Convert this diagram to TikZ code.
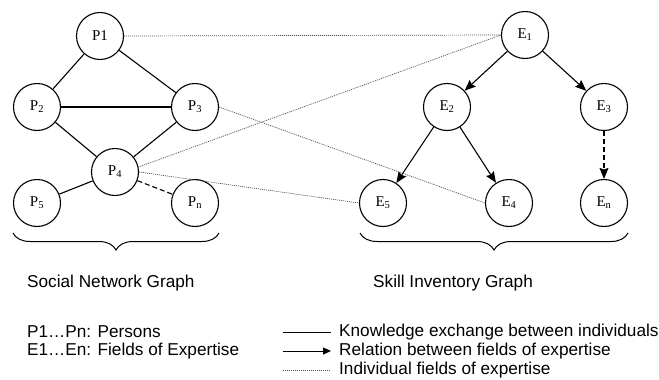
\documentclass[tikz,border=0pt]{standalone}
\usepackage{fontspec}
\setmainfont{Liberation Serif}
\newfontfamily\labelfont{Liberation Sans}
\usetikzlibrary{arrows.meta,decorations.pathreplacing}
\begin{document}
\begin{tikzpicture}[x=1pt,y=-1pt,
  vertex/.style={circle,draw,line width=1.1pt,minimum size=47pt,inner sep=0pt,
    font=\fontsize{15}{15}\selectfont},
  link/.style={line width=1.1pt},
  maybelink/.style={line width=1.1pt,dash pattern=on 5pt off 3pt},
  rel/.style={line width=1.1pt,-{Stealth[length=11pt,width=9pt,inset=1.5pt]}},
  maybrel/.style={rel,dash pattern=on 5pt off 3pt},
  expertise/.style={gray!60!black,line width=0.7pt,dash pattern=on 1pt off 1pt},
  grp/.style={line width=1pt,decorate,decoration={brace,mirror,amplitude=17pt}},
  caption/.style={font=\labelfont\fontsize{17.2}{17.2}\selectfont,anchor=west,inner sep=0pt}]
\useasboundingbox (0,0) rectangle (659,380);

% social network graph
\node[vertex] (P1) at (100,36) {P1};
\node[vertex] (P2) at (37,107) {P\textsubscript{2}};
\node[vertex] (P3) at (195,107) {P\textsubscript{3}};
\node[vertex] (P4) at (115,172) {P\textsubscript{4}};
\node[vertex] (P5) at (37,203) {P\textsubscript{5}};
\node[vertex] (Pn) at (195,203) {P\textsubscript{n}};

\draw[link] (P1) -- (P2);
\draw[link] (P1) -- (P3);
\draw[link] (P2) -- (P3);
\draw[link] (P2) -- (P4);
\draw[link] (P3) -- (P4);
\draw[link] (P4) -- (P5);
\draw[maybelink] (P4) -- (Pn);

% skill inventory graph
\node[vertex] (E1) at (525,35) {E\textsubscript{1}};
\node[vertex] (E2) at (447,107) {E\textsubscript{2}};
\node[vertex] (E3) at (604,107) {E\textsubscript{3}};
\node[vertex] (E5) at (383,203) {E\textsubscript{5}};
\node[vertex] (E4) at (509,203) {E\textsubscript{4}};
\node[vertex] (En) at (604,203) {E\textsubscript{n}};

\draw[rel] (E1) -- (E2);
\draw[rel] (E1) -- (E3);
\draw[rel] (E2) -- (E5);
\draw[rel] (E2) -- (E4);
\draw[maybrel] (E3) -- (En);

% persons and their fields of expertise
\draw[expertise] (P1.east) -- (E1.west);
\draw[expertise] (P3.east) -- (E4.west);
\draw[expertise] (P4.12) -- (E1.west);
\draw[expertise] (P4.east) -- (E5.west);

% group braces and titles
\coordinate (SL) at (13,233);
\coordinate (SR) at (219,233);
\coordinate (KL) at (360,233);
\coordinate (KR) at (628,233);
\draw[grp] (SL) -- (SR);
\draw[grp] (KL) -- (KR);
\node[caption] (snlabel) at (27,283) {Social Network Graph};
\node[caption] (silabel) at (373,283) {Skill Inventory Graph};

% legend
\node[caption] (lp) at (27,332) {P1…Pn: Persons};
\node[caption] (le) at (27,351) {E1…En: Fields of Expertise};

\coordinate (k1) at (283,332);
\coordinate (k2) at (331,332);
\coordinate (r1) at (283,351);
\coordinate (r2) at (331,351);
\coordinate (i1) at (283,370);
\coordinate (i2) at (331,370);
\draw[line width=1pt] (k1) -- (k2);
\draw[line width=1pt,-{Triangle[length=8pt,width=7pt]}] (r1) -- (r2);
\draw[expertise] (i1) -- (i2);
\node[caption] (lk) at (339,332) {Knowledge exchange between individuals};
\node[caption] (lr) at (339,351) {Relation between fields of expertise};
\node[caption] (li) at (339,370) {Individual fields of expertise};
\end{tikzpicture}
\end{document}
